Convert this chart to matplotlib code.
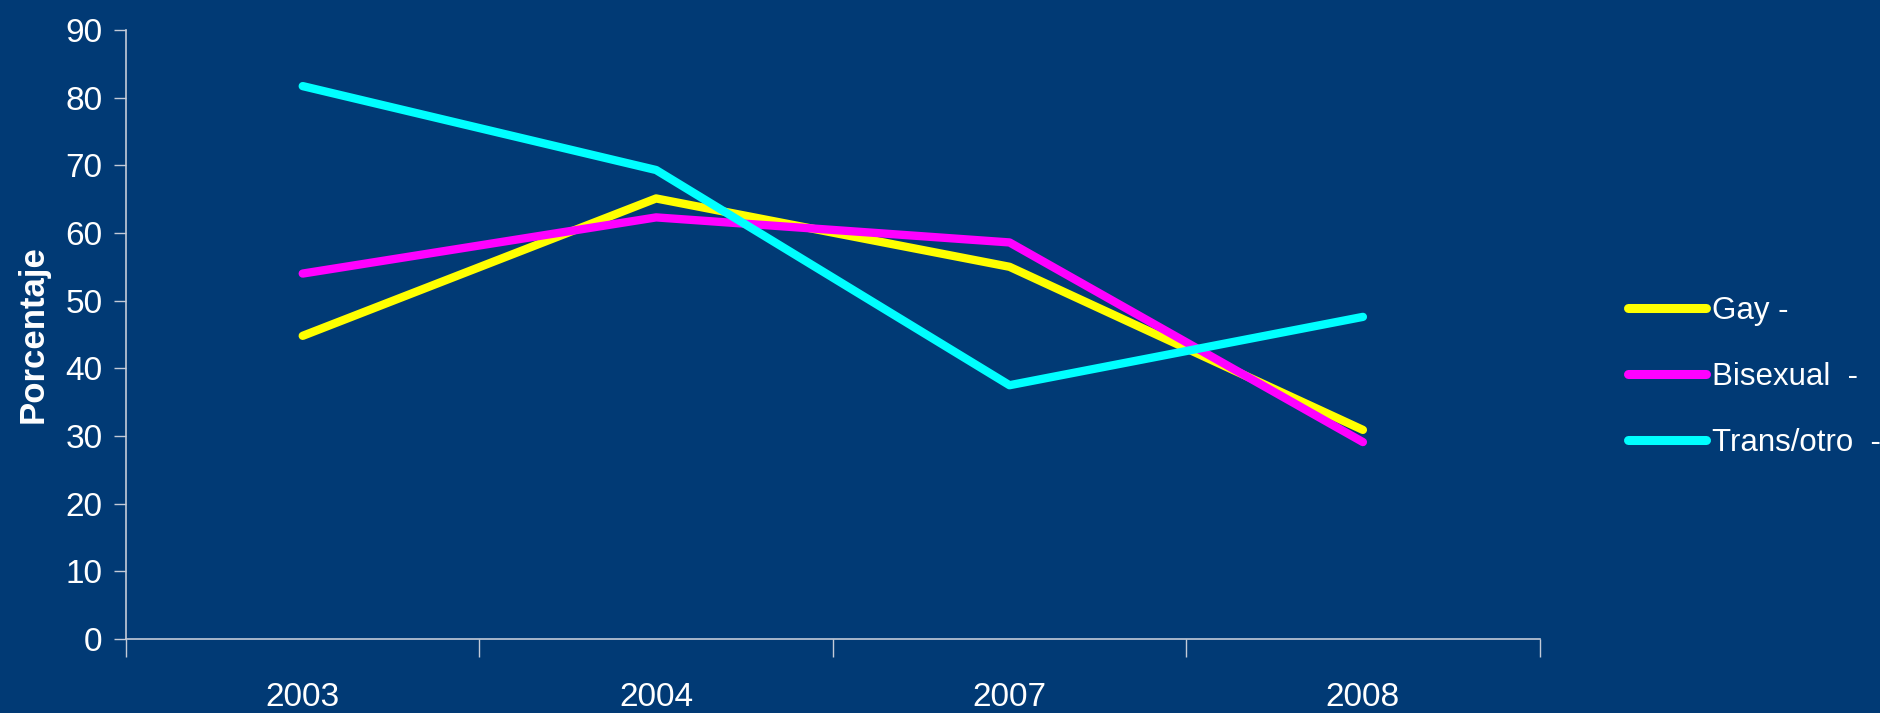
import numpy as np
import matplotlib.pyplot as plt

# values
years = ['2003', '2004', '2007', '2008']
gay = [44.8, 65.1, 55.0, 30.9]
bisexual = [54.0, 62.3, 58.6, 29.1]
trans = [81.7, 69.3, 37.5, 47.6]
labels = ['Gay -', 'Bisexual  -', 'Trans/otro  -']
colors = ['#ffff00', '#ff00ff', '#00ffff']

bg = '#013a75'
axcol = '#c4cbd8'

plt.rcParams['font.family'] = ['Liberation Sans', 'DejaVu Sans']

fig = plt.figure(figsize=(18.81, 7.13), dpi=100)
fig.patch.set_facecolor(bg)
ax = fig.add_axes([0.067, 0.1038, 0.7515, 0.8542])
ax.set_facecolor(bg)

x = np.arange(len(years))
lines = []
for vals, c, lab in zip([gay, bisexual, trans], colors, labels):
    ln, = ax.plot(x, vals, color=c, lw=6, solid_capstyle='round',
                  solid_joinstyle='round', label=lab)
    lines.append(ln)

ax.set_xlim(-0.5, len(years) - 0.5)
ax.set_ylim(0, 90)
ax.set_yticks(np.arange(0, 91, 10))

# ticks on category boundaries, labels at centers
ax.set_xticks(np.arange(-0.5, len(years), 1.0))
ax.set_xticklabels([])
ax.set_xticks(x, minor=True)
ax.set_xticklabels(years, minor=True)
ax.tick_params(axis='x', which='major', direction='out', length=13, width=1, color=axcol)
ax.tick_params(axis='x', which='minor', length=0, pad=31, labelsize=24, labelcolor='white')
ax.tick_params(axis='y', direction='out', length=9, width=1, color=axcol,
               labelsize=24, labelcolor='white', pad=8)

for s in ['top', 'right']:
    ax.spines[s].set_visible(False)
for s in ['left', 'bottom']:
    ax.spines[s].set_color(axcol)
    ax.spines[s].set_linewidth(1.2)

ax.set_ylabel('Porcentaje', fontsize=25, fontweight='bold', color='white')
ax.yaxis.set_label_coords(-0.054, 0.5)

leg = fig.legend(lines, labels, loc='center left', bbox_to_anchor=(0.8655, 0.471),
                 frameon=False, fontsize=22.5, handlelength=2.5, handletextpad=0.2,
                 labelspacing=1.15, borderpad=0, borderaxespad=0)
for t in leg.get_texts():
    t.set_color('white')
for h in leg.get_lines():
    h.set_linewidth(6.5)

fig.savefig('out.png', dpi=100, facecolor=bg)
